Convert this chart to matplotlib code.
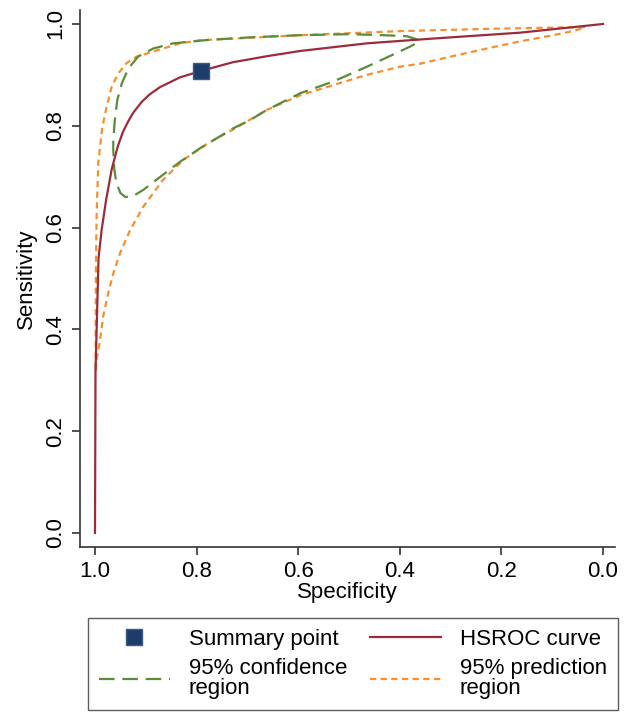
import matplotlib
matplotlib.use('Agg')
import matplotlib.pyplot as plt
from matplotlib.lines import Line2D

# values (specificity, sensitivity)
summary_spec = [0.791]
summary_sens = [0.908]

hsroc_spec = [1.0, 0.9995, 0.999, 0.993, 0.987, 0.978, 0.967, 0.955, 0.945, 0.935,
              0.9245, 0.908, 0.892, 0.872, 0.833, 0.791, 0.728, 0.660, 0.596,
              0.465, 0.340, 0.163, 0.0]
hsroc_sens = [0.0, 0.15, 0.316, 0.540, 0.595, 0.655, 0.715, 0.760, 0.788, 0.808,
              0.826, 0.847, 0.862, 0.876, 0.895, 0.908, 0.925, 0.937, 0.947,
              0.962, 0.971, 0.983, 1.0]

conf_spec = [0.364, 0.386, 0.432, 0.498, 0.596, 0.690, 0.774, 0.846, 0.885, 0.915,
             0.934, 0.947, 0.956, 0.961, 0.964, 0.964, 0.962, 0.958, 0.950, 0.940,
             0.925, 0.905, 0.879, 0.833, 0.793, 0.728, 0.695, 0.662, 0.596, 0.531,
             0.465, 0.400, 0.373, 0.364]
conf_sens = [0.969, 0.976, 0.978, 0.980, 0.978, 0.974, 0.969, 0.962, 0.952, 0.936,
             0.913, 0.884, 0.851, 0.811, 0.772, 0.752, 0.715, 0.688, 0.668, 0.660,
             0.662, 0.674, 0.694, 0.729, 0.756, 0.795, 0.811, 0.831, 0.864, 0.887,
             0.916, 0.946, 0.959, 0.969]

pred_spec = [0.035, 0.203, 0.360, 0.400, 0.596, 0.793, 0.833, 0.885, 0.918, 0.938,
             0.954, 0.967, 0.977, 0.986, 0.9935, 0.9967, 0.998, 0.9987, 0.9985,
             0.997, 0.990, 0.984, 0.974, 0.964, 0.951, 0.931, 0.905, 0.866, 0.826,
             0.777, 0.728, 0.662, 0.596, 0.531, 0.465, 0.400, 0.360, 0.295, 0.228,
             0.163, 0.098, 0.055, 0.035]
pred_sens = [0.994, 0.991, 0.987, 0.986, 0.978, 0.968, 0.962, 0.946, 0.936, 0.923,
             0.903, 0.877, 0.838, 0.795, 0.727, 0.629, 0.536, 0.400, 0.317,
             0.340, 0.379, 0.425, 0.471, 0.510, 0.549, 0.595, 0.641, 0.694, 0.733,
             0.766, 0.793, 0.831, 0.860, 0.880, 0.900, 0.916, 0.922, 0.937, 0.952,
             0.966, 0.978, 0.987, 0.994]

xticks = [1.0, 0.8, 0.6, 0.4, 0.2, 0.0]
yticks = [0.0, 0.2, 0.4, 0.6, 0.8, 1.0]

red = '#9b2d3a'
green = '#5a8c3c'
orange = '#f7902a'
navy = '#1c3c6a'

plt.rcParams['font.family'] = ['Liberation Sans', 'DejaVu Sans']
plt.rcParams['font.size'] = 16

fig = plt.figure(figsize=(6.3, 7.15), dpi=100)
ax = fig.add_axes([80 / 630, 1 - 547 / 715, 535 / 630, 537 / 715])

ax.plot(pred_spec, pred_sens, color=orange, lw=1.6, dashes=(2.8, 2.0))
ax.plot(conf_spec, conf_sens, color=green, lw=1.6, dashes=(7, 3.5))
ax.plot(hsroc_spec, hsroc_sens, color=red, lw=1.6)
ax.plot(summary_spec, summary_sens, 's', ms=11, color=navy, mec='#3a5a8a', mew=1)

ax.set_xlim(1.0295, -0.0236)
ax.set_ylim(-0.0275, 1.0275)
ax.set_xticks(xticks)
ax.set_yticks(yticks)
ax.set_xticklabels(['%.1f' % t for t in xticks])
ax.set_yticklabels(['%.1f' % t for t in yticks], rotation=90, va='center')
for s in ['top', 'right']:
    ax.spines[s].set_visible(False)
for s in ['left', 'bottom']:
    ax.spines[s].set_color('#333333')
    ax.spines[s].set_linewidth(1.2)
ax.tick_params(direction='out', length=6, width=1.2, color='#333333', pad=4)
ax.set_xlabel('Specificity', labelpad=0)
ax.set_ylabel('Sensitivity', labelpad=6)

handles = [
    Line2D([], [], ls='none', marker='s', ms=11, color=navy, mec='#3a5a8a'),
    Line2D([], [], color=green, lw=1.6, dashes=(7, 3.5)),
    Line2D([], [], color=red, lw=1.6),
    Line2D([], [], color=orange, lw=1.6, dashes=(2.8, 2.0)),
]
labels = ['Summary point', '95% confidence\nregion', 'HSROC curve', '95% prediction\nregion']
leg = fig.legend(handles, labels, ncol=2, loc='upper center',
                 bbox_to_anchor=(0.56, 1 - 618 / 715), frameon=True, fancybox=False,
                 edgecolor='#333333', handlelength=3.2, handletextpad=0.85,
                 columnspacing=1.0, labelspacing=0.35, borderpad=0.5,
                 borderaxespad=0)
leg.get_frame().set_linewidth(1.0)
for t in leg.get_texts():
    t.set_linespacing(0.95)

fig.savefig('out.png', dpi=100)
